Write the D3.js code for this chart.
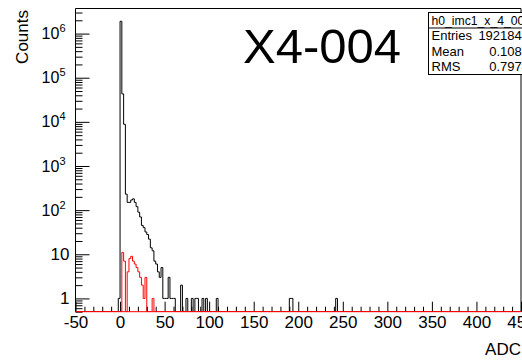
<!DOCTYPE html>
<html><head><meta charset="utf-8">
<script src="https://cdn.jsdelivr.net/npm/d3@7"></script>
<style>html,body{margin:0;padding:0;background:#fff;}svg{display:block;font-family:"Liberation Sans",Arial,Helvetica,sans-serif;}</style>
</head><body>
<script>
// ---- data ----
const binWidth = 2;
const xDomain = [-50, 450];
const yDomain = [0.5, 3.7e6];
const xTickLabels = [-50, 0, 50, 100, 150, 200, 250, 300, 350, 400, 450];
const yTickExps = [0, 1, 2, 3, 4, 5, 6];
// black histogram: low edges and counts
const blackLow = [-2, 0, 2, 4, 6, 8, 10, 12, 14, 16, 18, 20, 22, 24, 26, 28, 30, 32, 34, 36, 38, 40, 42, 44, 46, 48, 50, 52, 54, 56, 58, 60, 68, 74, 80, 84, 86, 92, 96, 108, 190, 192, 242];
const blackCounts = [1, 1.9e6, 43000, 8800, 230, 150, 150, 170, 180, 150, 120, 90, 70, 45, 40, 32, 28, 22, 14, 12, 7, 6, 4, 3, 5, 1, 1, 1, 3, 1, 1, 1, 2, 1, 1, 1, 1, 1, 1, 1, 1, 1, 1];
// red histogram
const redLow = [2, 4, 6, 8, 10, 12, 14, 16, 18, 20, 22, 24, 26, 28, 36];
const redCounts = [11, 7, 0, 4, 8, 9, 7, 6, 5, 4, 3, 2, 1, 3, 1];
const histName = "h0_imc1_x_4_004";
const statLabels = ["Entries", "Mean", "RMS"];
const statValues = ["1921843", "0.1085", "0.7974"];
const titleText = "X4-004";

// ---- layout ----
const W = 522, H = 360;
const fr = {left: 75.5, right: 521, top: 8.5, bottom: 311.7};
const svg = d3.select("body").append("svg").attr("width", W).attr("height", H);

const x = d3.scaleLinear().domain(xDomain).range([fr.left, fr.right]);
const y = d3.scaleLog().domain(yDomain).range([fr.bottom, fr.top]);

svg.append("clipPath").attr("id", "clip").append("rect")
  .attr("x", fr.left).attr("y", fr.top - 1).attr("width", fr.right - fr.left).attr("height", fr.bottom - fr.top + 1);

function histPath(lows, counts) {
  const m = new Map(lows.map((l, i) => [l, counts[i]]));
  const p = d3.path();
  p.moveTo(x(xDomain[0]), fr.bottom);
  for (let lo = xDomain[0]; lo < xDomain[1]; lo += binWidth) {
    const v = m.get(lo) || 0;
    const yy = v > 0 ? y(Math.max(v, yDomain[0])) : fr.bottom;
    p.lineTo(x(lo), yy);
    p.lineTo(x(lo + binWidth), yy);
  }
  p.lineTo(x(xDomain[1]), fr.bottom);
  return p.toString();
}

const g = svg.append("g").attr("clip-path", "url(#clip)");
g.append("path").attr("d", histPath(blackLow, blackCounts)).attr("fill", "none").attr("stroke", "#000").attr("stroke-width", 1);
g.append("path").attr("d", histPath(redLow, redCounts)).attr("fill", "none").attr("stroke", "#ff0000").attr("stroke-width", 1);

// frame
svg.append("line").attr("x1", fr.left).attr("x2", fr.right).attr("y1", fr.top).attr("y2", fr.top).attr("stroke", "#000").attr("stroke-width", 1);
svg.append("line").attr("x1", fr.right).attr("x2", fr.right).attr("y1", fr.top).attr("y2", fr.bottom).attr("stroke", "#000").attr("stroke-width", 1);

// y axis (ticks inward)
const yMajor = yTickExps.map(e => Math.pow(10, e));
const yMinor = [];
for (let e = -1; e <= 6; e++) for (let k = 2; k <= 9; k++) { const v = k * Math.pow(10, e); if (v >= yDomain[0] && v <= yDomain[1]) yMinor.push(v); }
const yAxisG = svg.append("g").attr("transform", `translate(${fr.left},0)`);
yAxisG.call(d3.axisRight(y).tickValues(yMajor).tickSize(14).tickFormat(""));
yAxisG.append("g").call(d3.axisRight(y).tickValues(yMinor).tickSize(7).tickFormat(""));
yAxisG.selectAll(".domain").remove();
svg.append("line").attr("x1", fr.left).attr("x2", fr.left).attr("y1", fr.top).attr("y2", fr.bottom).attr("stroke", "#000");
yAxisG.selectAll("line").attr("stroke", "#000");

// y labels
const yLab = svg.append("g").attr("transform", `translate(${fr.left},0)`)
  .call(d3.axisLeft(y).tickValues(yMajor).tickSize(0).tickPadding(6).tickFormat(""));
yLab.select(".domain").remove();
yLab.selectAll(".tick text").each(function(d) {
  const t = d3.select(this).attr("font-size", 17).attr("fill", "#000").attr("font-family", "Liberation Sans, Arial, sans-serif");
  const e = Math.round(Math.log10(d));
  if (e === 0) t.text("1");
  else if (e === 1) t.text("10");
  else {
    t.attr("font-size", 16).attr("dx", -4);
    t.append("tspan").text("10");
    t.append("tspan").attr("font-size", 11).attr("dy", -7).text(String(e));
  }
});

// x axis
const xMajor = d3.range(xDomain[0], xDomain[1] + 1, 50);
const xMinor = d3.range(xDomain[0], xDomain[1] + 1, 10).filter(v => v % 50 !== 0);
const xAxisG = svg.append("g").attr("transform", `translate(0,${fr.bottom})`);
xAxisG.call(d3.axisTop(x).tickValues(xMajor).tickSize(10).tickFormat(""));
xAxisG.append("g").call(d3.axisTop(x).tickValues(xMinor).tickSize(5).tickFormat(""));
xAxisG.selectAll(".domain").remove();
xAxisG.selectAll("line").attr("stroke", "#000");
const xLab = svg.append("g").attr("transform", `translate(0,${fr.bottom})`)
  .call(d3.axisBottom(x).tickValues(xTickLabels).tickSize(0).tickPadding(4).tickFormat(d => String(d)));
xLab.select(".domain").remove();
xLab.selectAll(".tick text").attr("font-size", 17).attr("fill", "#000").attr("font-family", "Liberation Sans, Arial, sans-serif");
// red histogram's zero baseline overlays the axis line
svg.append("line").attr("x1", fr.left).attr("x2", fr.right).attr("y1", fr.bottom).attr("y2", fr.bottom).attr("stroke", "#ff0000");

// axis titles
svg.append("text").attr("transform", `translate(28,10) rotate(-90)`).attr("text-anchor", "end")
  .attr("font-size", 17).text("Counts");
svg.append("text").attr("x", 521).attr("y", 355).attr("text-anchor", "end").attr("font-size", 17).text("ADC");

// big title
svg.append("text").attr("x", 243).attr("y", 63).attr("font-size", 49).text(titleText);

// stats box
const sb = {x: 428.5, y: 12.5, w: 110, rowH: 15.5};
svg.append("rect").attr("x", sb.x).attr("y", sb.y).attr("width", sb.w).attr("height", sb.rowH * 4)
  .attr("fill", "#fff").attr("stroke", "#000").attr("stroke-width", 1);
svg.append("line").attr("x1", sb.x).attr("x2", sb.x + sb.w).attr("y1", sb.y + sb.rowH).attr("y2", sb.y + sb.rowH).attr("stroke", "#000");
svg.append("text").attr("x", sb.x + 3).attr("y", sb.y + 12).attr("font-size", 12.2).text(histName);
statLabels.forEach((s, i) => {
  const yy = sb.y + sb.rowH * (i + 1) + 12;
  svg.append("text").attr("x", sb.x + 3).attr("y", yy).attr("font-size", 13).text(s);
  svg.append("text").attr("x", 529).attr("y", yy).attr("text-anchor", "end").attr("font-size", 13).text(statValues[i]);
});
</script>
</body></html>
